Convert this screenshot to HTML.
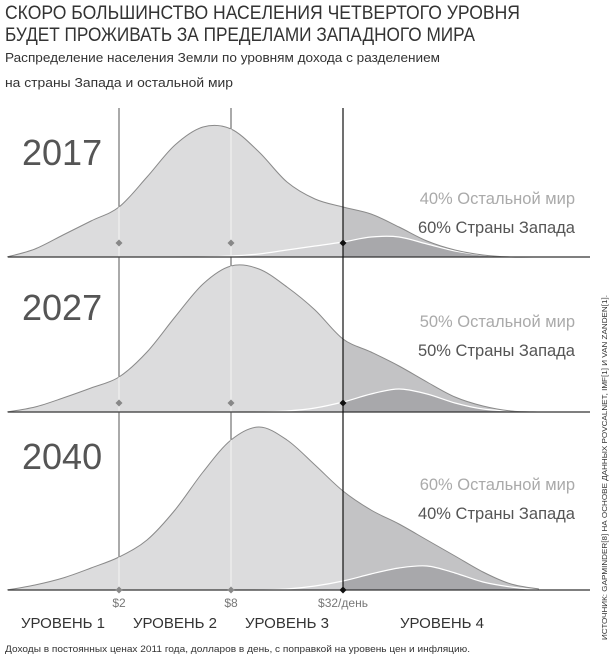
<!DOCTYPE html>
<html><head><meta charset="utf-8"><style>
body{margin:0;background:#fff;}
svg{display:block;font-family:"Liberation Sans",sans-serif;}
</style></head><body>
<svg id="chart" width="614" height="658" viewBox="0 0 614 658">
<text x="5" y="19" font-size="19" fill="#333" textLength="515" lengthAdjust="spacingAndGlyphs">СКОРО БОЛЬШИНСТВО НАСЕЛЕНИЯ ЧЕТВЕРТОГО УРОВНЯ</text>
<text x="5" y="41" font-size="19" fill="#333" textLength="470" lengthAdjust="spacingAndGlyphs">БУДЕТ ПРОЖИВАТЬ ЗА ПРЕДЕЛАМИ ЗАПАДНОГО МИРА</text>
<text x="5" y="62" font-size="13" fill="#333" textLength="435" lengthAdjust="spacingAndGlyphs">Распределение населения Земли по уровням дохода с разделением</text>
<text x="5" y="87" font-size="13" fill="#333" textLength="228" lengthAdjust="spacingAndGlyphs">на страны Запада и остальной мир</text>
<g id="panels"></g>
<text x="119" y="607" font-size="12" fill="#777" text-anchor="middle">$2</text>
<text x="231" y="607" font-size="12" fill="#777" text-anchor="middle">$8</text>
<text x="343" y="607" font-size="12" fill="#777" text-anchor="middle">$32/день</text>
<text x="63" y="628" font-size="15" fill="#333" text-anchor="middle">УРОВЕНЬ 1</text>
<text x="175" y="628" font-size="15" fill="#333" text-anchor="middle">УРОВЕНЬ 2</text>
<text x="287" y="628" font-size="15" fill="#333" text-anchor="middle">УРОВЕНЬ 3</text>
<text x="442" y="628" font-size="15" fill="#333" text-anchor="middle">УРОВЕНЬ 4</text>
<text x="5" y="652" font-size="9.5" fill="#333" textLength="465" lengthAdjust="spacingAndGlyphs">Доходы в постоянных ценах 2011 года, долларов в день, с поправкой на уровень цен и инфляцию.</text>
<text transform="translate(607,640) rotate(-90)" font-size="7.5" fill="#333" textLength="345" lengthAdjust="spacingAndGlyphs">ИСТОЧНИК: GAPMINDER[8] НА ОСНОВЕ ДАННЫХ POVCALNET, IMF[1] И VAN ZANDEN[1].</text>
</svg>
<script>
const logIncome=[-1,-0.5,0,0.5,1,1.5,2,2.5,3,3.5,4,4.5,5,5.5,6,6.5,7,7.5,8,8.5];
const years=["2017","2027","2040"];
const total2017=[0,8,22,36,50,80,112,130,128,105,75,58,50,43,30,16,7,2,0,0];
const west2017=[0,0,0,0,0,0,0,0,1,3,7,11,15,20,20,13,6,2,0,0];
const total2027=[0,5,14,24,35,60,95,128,146,143,125,102,73,60,46,30,15,6,1,0];
const west2027=[0,0,0,0,0,0,0,0,0,0,1,4,10,18,23,18,9,3,1,0];
const total2040=[0,5,12,22,33,50,80,118,150,163,150,125,99,80,66,50,34,18,6,1];
const west2040=[0,0,0,0,0,0,0,0,0,0,1,4,9,16,22,24,17,8,3,0];
const restShare=["40% Остальной мир","50% Остальной мир","60% Остальной мир"];
const westShare=["60% Страны Запада","50% Страны Запада","40% Страны Запада"];
const thresholds=[2,8,32];

const totals=[total2017,total2027,total2040], wests=[west2017,west2027,west2040];
const baselines=[257,412,590], dotOff=[14,9,0];
const yearY=[165,320,469], restY=[204,327,490], westY=[233,356,519];
const xOfLog=l=>119+56*(l-1);
const xOfIncome=v=>xOfLog(Math.log2(v));
const NS="http://www.w3.org/2000/svg";
const g=document.getElementById('panels');
function mk(tag,attrs,parent){const e=document.createElementNS(NS,tag);for(const k in attrs)e.setAttribute(k,attrs[k]);(parent||g).appendChild(e);return e;}
function smooth(pts){let d=`M${pts[0][0]},${pts[0][1]}`;for(let i=0;i<pts.length-1;i++){const p0=pts[Math.max(0,i-1)],p1=pts[i],p2=pts[i+1],p3=pts[Math.min(pts.length-1,i+2)];
const c1=[p1[0]+(p2[0]-p0[0])/6,p1[1]+(p2[1]-p0[1])/6],c2=[p2[0]-(p3[0]-p1[0])/6,p2[1]-(p3[1]-p1[1])/6];
d+=` C${c1[0].toFixed(1)},${c1[1].toFixed(1)} ${c2[0].toFixed(1)},${c2[1].toFixed(1)} ${p2[0].toFixed(1)},${p2[1].toFixed(1)}`;}return d;}
const defs=mk('defs',{});
const x32=xOfIncome(32);
mk('rect',{x:0,y:0,width:x32,height:658},mk('clipPath',{id:'leftClip'},defs));
mk('rect',{x:x32,y:0,width:614,height:658},mk('clipPath',{id:'rightClip'},defs));
thresholds.slice(0,2).forEach((t,i)=>{const l=mk('line',{x1:xOfIncome(t),x2:xOfIncome(t),y1:108,y2:590,stroke:'#555','stroke-width':1});

});
years.forEach((yr,p)=>{
 const base=baselines[p];
 const tp=logIncome.map((l,i)=>[xOfLog(l),base-totals[p][i]]);
 const wp=logIncome.map((l,i)=>[xOfLog(l),base-wests[p][i]]);
 const td=smooth(tp)+' Z', wd=smooth(wp)+' Z';
 const cp=mk('clipPath',{id:'tot'+p},defs); mk('path',{d:td},cp);
 const a1=mk('path',{d:td,fill:'#dcdcdd','clip-path':'url(#leftClip)'});
 
 
 const a2=mk('path',{d:td,fill:'#c3c3c5','clip-path':'url(#rightClip)'});
 
 
 const w1=mk('path',{d:wd,fill:'#d2d2d4','clip-path':'url(#leftClip)'});
 
 
 const w2=mk('path',{d:wd,fill:'#a8a8ab','clip-path':'url(#rightClip)'});
 
 
 const wl=mk('path',{d:smooth(wp),fill:'none',stroke:'#fff','stroke-width':1.2});
 
 
 const tl=mk('path',{d:smooth(tp),fill:'none',stroke:'#8a8a8a','stroke-width':1});
 
 
 thresholds.slice(0,2).forEach(t=>{const l=mk('line',{x1:xOfIncome(t),x2:xOfIncome(t),y1:base-170,y2:base,stroke:'#f4f4f4','stroke-width':1,'clip-path':'url(#tot'+p+')'});
  
  });
 const bl=mk('line',{x1:8,x2:590,y1:base,y2:base,stroke:'#333','stroke-width':1.2});
 
 
 thresholds.forEach(t=>{const x=xOfIncome(t),y=base-dotOff[p];
  const dm=mk('path',{d:`M${x},${y-3.5} L${x+3.5},${y} L${x},${y+3.5} L${x-3.5},${y} Z`,fill:t===32?'#111':'#888'});
  
  });
 const yt=mk('text',{x:22,y:yearY[p],'font-size':36,fill:'#555'}); yt.textContent=yr;
 
 
 const r=mk('text',{x:575,y:restY[p],'font-size':16.5,fill:'#aaa','text-anchor':'end'}); r.textContent=restShare[p];
 
 
 const w=mk('text',{x:575,y:westY[p],'font-size':16.5,fill:'#555','text-anchor':'end'}); w.textContent=westShare[p];
 
 
});
const l32=mk('line',{x1:x32,x2:x32,y1:108,y2:592,stroke:'#111','stroke-width':1.2});


</script>
</body></html>
